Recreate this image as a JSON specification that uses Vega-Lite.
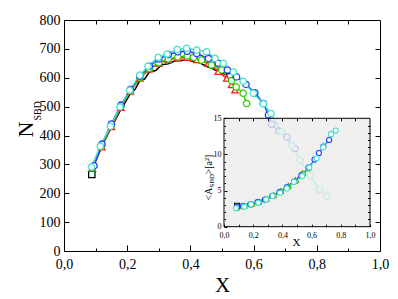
{
  "$schema": "https://vega.github.io/schema/vega-lite/v6.json",
  "width": 316,
  "height": 231,
  "autosize": {"type": "none"},
  "padding": {"left": 64, "top": 20, "right": 18, "bottom": 48},
  "background": "white",
  "config": {
    "view": {"stroke": null},
    "font": "Liberation Serif",
    "axis": {"grid": false, "domainColor": "black", "tickColor": "black", "labelColor": "black", "titleColor": "black", "labelFont": "Liberation Serif", "titleFont": "Liberation Serif", "titleFontWeight": "normal", "labelFlush": false, "labelOverlap": false, "labelBound": false, "domainWidth": 1, "tickWidth": 1}
  },
  "datasets": {
    "main": [
      {"s": "s1", "x": 0.088, "n": 265}, {"s": "s1", "x": 0.095, "n": 300}, {"s": "s1", "x": 0.12, "n": 365}, {"s": "s1", "x": 0.15, "n": 428},
      {"s": "s1", "x": 0.18, "n": 490}, {"s": "s1", "x": 0.21, "n": 545}, {"s": "s1", "x": 0.225, "n": 560}, {"s": "s1", "x": 0.24, "n": 590},
      {"s": "s1", "x": 0.255, "n": 595}, {"s": "s1", "x": 0.27, "n": 620}, {"s": "s1", "x": 0.29, "n": 625}, {"s": "s1", "x": 0.31, "n": 645},
      {"s": "s1", "x": 0.33, "n": 648}, {"s": "s1", "x": 0.35, "n": 658}, {"s": "s1", "x": 0.37, "n": 660}, {"s": "s1", "x": 0.39, "n": 662},
      {"s": "s1", "x": 0.41, "n": 656}, {"s": "s1", "x": 0.43, "n": 652}, {"s": "s1", "x": 0.45, "n": 640}, {"s": "s1", "x": 0.47, "n": 632},
      {"s": "s1", "x": 0.49, "n": 620}, {"s": "s1", "x": 0.51, "n": 612}, {"s": "s1", "x": 0.525, "n": 603},
      {"s": "s2", "x": 0.09, "n": 285}, {"s": "s2", "x": 0.12, "n": 360}, {"s": "s2", "x": 0.15, "n": 430}, {"s": "s2", "x": 0.18, "n": 497},
      {"s": "s2", "x": 0.21, "n": 553}, {"s": "s2", "x": 0.24, "n": 598}, {"s": "s2", "x": 0.27, "n": 630}, {"s": "s2", "x": 0.3, "n": 650},
      {"s": "s2", "x": 0.33, "n": 662}, {"s": "s2", "x": 0.36, "n": 668}, {"s": "s2", "x": 0.39, "n": 670}, {"s": "s2", "x": 0.42, "n": 662},
      {"s": "s2", "x": 0.457, "n": 650}, {"s": "s2", "x": 0.488, "n": 621}, {"s": "s2", "x": 0.515, "n": 598}, {"s": "s2", "x": 0.53, "n": 575},
      {"s": "s2", "x": 0.541, "n": 557},
      {"s": "s3", "x": 0.09, "n": 290}, {"s": "s3", "x": 0.12, "n": 365}, {"s": "s3", "x": 0.15, "n": 435}, {"s": "s3", "x": 0.18, "n": 500},
      {"s": "s3", "x": 0.21, "n": 555}, {"s": "s3", "x": 0.24, "n": 600}, {"s": "s3", "x": 0.27, "n": 632}, {"s": "s3", "x": 0.3, "n": 652},
      {"s": "s3", "x": 0.33, "n": 665}, {"s": "s3", "x": 0.36, "n": 672}, {"s": "s3", "x": 0.39, "n": 675}, {"s": "s3", "x": 0.41, "n": 670},
      {"s": "s3", "x": 0.435, "n": 661}, {"s": "s3", "x": 0.467, "n": 644}, {"s": "s3", "x": 0.499, "n": 627}, {"s": "s3", "x": 0.53, "n": 590},
      {"s": "s3", "x": 0.545, "n": 568}, {"s": "s3", "x": 0.567, "n": 546}, {"s": "s3", "x": 0.578, "n": 511},
      {"s": "s4", "x": 0.095, "n": 295}, {"s": "s4", "x": 0.12, "n": 370}, {"s": "s4", "x": 0.15, "n": 440}, {"s": "s4", "x": 0.18, "n": 505},
      {"s": "s4", "x": 0.21, "n": 560}, {"s": "s4", "x": 0.24, "n": 605}, {"s": "s4", "x": 0.27, "n": 640}, {"s": "s4", "x": 0.3, "n": 665},
      {"s": "s4", "x": 0.33, "n": 680}, {"s": "s4", "x": 0.36, "n": 690}, {"s": "s4", "x": 0.39, "n": 692}, {"s": "s4", "x": 0.42, "n": 684},
      {"s": "s4", "x": 0.457, "n": 667}, {"s": "s4", "x": 0.488, "n": 650}, {"s": "s4", "x": 0.517, "n": 627}, {"s": "s4", "x": 0.546, "n": 603},
      {"s": "s4", "x": 0.576, "n": 577}, {"s": "s4", "x": 0.604, "n": 548}, {"s": "s4", "x": 0.631, "n": 511}, {"s": "s4", "x": 0.647, "n": 471},
      {"s": "s4", "x": 0.657, "n": 439}, {"s": "s4", "x": 0.68, "n": 415}, {"s": "s4", "x": 0.705, "n": 395}, {"s": "s4", "x": 0.731, "n": 355},
      {"s": "s5", "x": 0.087, "n": 291}, {"s": "s5", "x": 0.115, "n": 363}, {"s": "s5", "x": 0.147, "n": 432}, {"s": "s5", "x": 0.177, "n": 499},
      {"s": "s5", "x": 0.208, "n": 557}, {"s": "s5", "x": 0.24, "n": 609}, {"s": "s5", "x": 0.266, "n": 640}, {"s": "s5", "x": 0.298, "n": 671},
      {"s": "s5", "x": 0.326, "n": 682}, {"s": "s5", "x": 0.358, "n": 698}, {"s": "s5", "x": 0.388, "n": 702}, {"s": "s5", "x": 0.42, "n": 696},
      {"s": "s5", "x": 0.451, "n": 690}, {"s": "s5", "x": 0.478, "n": 667}, {"s": "s5", "x": 0.504, "n": 650}, {"s": "s5", "x": 0.536, "n": 620},
      {"s": "s5", "x": 0.567, "n": 588}, {"s": "s5", "x": 0.599, "n": 546}, {"s": "s5", "x": 0.631, "n": 510}, {"s": "s5", "x": 0.655, "n": 476},
      {"s": "s5", "x": 0.689, "n": 413}, {"s": "s5", "x": 0.721, "n": 366}, {"s": "s5", "x": 0.747, "n": 314}, {"s": "s5", "x": 0.779, "n": 262},
      {"s": "s5", "x": 0.808, "n": 213}, {"s": "s5", "x": 0.832, "n": 190}
    ],
    "inset": [
      {"s": "s1", "x": 0.09, "a": 2.9}, {"s": "s1", "x": 0.14, "a": 2.95}, {"s": "s1", "x": 0.19, "a": 3.2}, {"s": "s1", "x": 0.24, "a": 3.5},
      {"s": "s1", "x": 0.29, "a": 3.9}, {"s": "s1", "x": 0.34, "a": 4.35}, {"s": "s1", "x": 0.39, "a": 4.95}, {"s": "s1", "x": 0.44, "a": 5.6},
      {"s": "s1", "x": 0.49, "a": 6.4}, {"s": "s1", "x": 0.53, "a": 7.1},
      {"s": "s2", "x": 0.09, "a": 2.75}, {"s": "s2", "x": 0.14, "a": 2.9}, {"s": "s2", "x": 0.19, "a": 3.15}, {"s": "s2", "x": 0.24, "a": 3.45},
      {"s": "s2", "x": 0.29, "a": 3.85}, {"s": "s2", "x": 0.34, "a": 4.35}, {"s": "s2", "x": 0.39, "a": 4.95}, {"s": "s2", "x": 0.44, "a": 5.65},
      {"s": "s2", "x": 0.49, "a": 6.45}, {"s": "s2", "x": 0.54, "a": 7.4},
      {"s": "s3", "x": 0.09, "a": 2.6}, {"s": "s3", "x": 0.14, "a": 2.85}, {"s": "s3", "x": 0.19, "a": 3.1}, {"s": "s3", "x": 0.24, "a": 3.4},
      {"s": "s3", "x": 0.29, "a": 3.8}, {"s": "s3", "x": 0.34, "a": 4.3}, {"s": "s3", "x": 0.39, "a": 4.85}, {"s": "s3", "x": 0.44, "a": 5.5},
      {"s": "s3", "x": 0.49, "a": 6.3}, {"s": "s3", "x": 0.54, "a": 7.3}, {"s": "s3", "x": 0.58, "a": 8.1},
      {"s": "s4", "x": 0.09, "a": 2.7}, {"s": "s4", "x": 0.13, "a": 2.85}, {"s": "s4", "x": 0.18, "a": 3.1}, {"s": "s4", "x": 0.23, "a": 3.4},
      {"s": "s4", "x": 0.28, "a": 3.75}, {"s": "s4", "x": 0.33, "a": 4.25}, {"s": "s4", "x": 0.38, "a": 4.8}, {"s": "s4", "x": 0.43, "a": 5.45},
      {"s": "s4", "x": 0.48, "a": 6.25}, {"s": "s4", "x": 0.53, "a": 7.1}, {"s": "s4", "x": 0.58, "a": 8.2}, {"s": "s4", "x": 0.62, "a": 9.3},
      {"s": "s4", "x": 0.65, "a": 10.2}, {"s": "s4", "x": 0.68, "a": 11.1}, {"s": "s4", "x": 0.72, "a": 12.0},
      {"s": "s5", "x": 0.082, "a": 2.55}, {"s": "s5", "x": 0.139, "a": 2.77}, {"s": "s5", "x": 0.185, "a": 3.1}, {"s": "s5", "x": 0.235, "a": 3.3},
      {"s": "s5", "x": 0.288, "a": 3.78}, {"s": "s5", "x": 0.333, "a": 4.24}, {"s": "s5", "x": 0.384, "a": 4.7}, {"s": "s5", "x": 0.43, "a": 5.3},
      {"s": "s5", "x": 0.479, "a": 6.2}, {"s": "s5", "x": 0.536, "a": 7.0}, {"s": "s5", "x": 0.584, "a": 8.2}, {"s": "s5", "x": 0.634, "a": 9.46},
      {"s": "s5", "x": 0.68, "a": 11.0}, {"s": "s5", "x": 0.733, "a": 12.8}, {"s": "s5", "x": 0.765, "a": 13.3}
    ],
    "one": [{"k": 1}]
  },
  "layer": [
    {
      "data": {"name": "main"},
      "encoding": {
        "x": {"field": "x", "type": "quantitative", "scale": {"domain": [0, 1], "nice": false, "zero": false},
          "axis": {"orient": "bottom", "values": [0, 0.2, 0.4, 0.6, 0.8, 1], "tickSize": -6, "labelPadding": 12, "labelFontSize": 14,
            "labelExpr": "replace(format(datum.value, '.1f'), '.', ',')",
            "title": "X", "titleFontSize": 21, "titleX": 158, "titleY": 40, "titleBaseline": "alphabetic", "titleAlign": "center"}},
        "y": {"field": "n", "type": "quantitative", "scale": {"domain": [0, 800], "nice": false, "zero": false},
          "axis": {"orient": "left", "values": [0, 100, 200, 300, 400, 500, 600, 700, 800], "tickSize": -5, "labelPadding": 9, "labelFontSize": 14,
            "title": "N", "titleFontSize": 22, "titleAngle": -90, "titleX": -32, "titleY": 117, "titleAlign": "left", "titleBaseline": "alphabetic"}},
        "color": {"field": "s", "type": "nominal", "scale": {"domain": ["s1", "s2", "s3", "s4", "s5"], "range": ["#000000", "#ff1a1a", "#33cc00", "#1f3fff", "#44e0cc"]}, "legend": null}
      },
      "layer": [
        {"mark": {"type": "line", "strokeWidth": 1.5}},
        {"transform": [{"filter": "datum.s != 's1' || datum.x < 0.09 || datum.x > 0.52"}],
          "mark": {"type": "point", "filled": false, "fill": "white", "fillOpacity": 1, "size": 40, "strokeWidth": 1.3},
          "encoding": {"shape": {"field": "s", "type": "nominal", "scale": {"domain": ["s1", "s2", "s3", "s4", "s5"], "range": ["square", "triangle-up", "circle", "circle", "circle"]}, "legend": null}}}
      ]
    },
    {
      "data": {"name": "one"},
      "mark": {"type": "point", "opacity": 0},
      "encoding": {
        "x": {"datum": 0.5, "type": "quantitative", "scale": {"domain": [0, 1], "nice": false, "zero": false},
          "axis": {"orient": "top", "values": [0.1, 0.2, 0.3, 0.4, 0.5, 0.6, 0.7, 0.8, 0.9], "tickSize": -4, "labels": false, "title": null}},
        "y": {"datum": 400, "type": "quantitative", "scale": {"domain": [0, 800], "nice": false, "zero": false},
          "axis": {"orient": "right", "values": [100, 200, 300, 400, 500, 600, 700], "tickSize": -5, "labels": false, "title": null}}
      }
    },
    {
      "data": {"name": "one"},
      "mark": {"type": "point", "opacity": 0},
      "encoding": {
        "x": {"datum": 0.5, "type": "quantitative", "scale": {"domain": [0, 1], "nice": false, "zero": false},
          "axis": {"orient": "bottom", "values": [0.1, 0.3, 0.5, 0.7, 0.9], "tickSize": -3, "labels": false, "domain": false, "title": null}},
        "y": {"datum": 400, "type": "quantitative", "scale": {"domain": [0, 800], "nice": false, "zero": false},
          "axis": {"orient": "left", "labels": false, "ticks": false, "domain": false,
            "title": "SBD", "titleFontSize": 10, "titleAngle": -90, "titleX": -24, "titleY": 100, "titleAlign": "left", "titleBaseline": "alphabetic"}}
      }
    },
    {
      "data": {"name": "one"},
      "mark": {"type": "rect", "fill": "#ebebeb", "fillOpacity": 0.8, "stroke": "black", "strokeWidth": 1},
      "encoding": {
        "x": {"datum": 0, "type": "quantitative", "scale": {"domain": [0, 1], "range": [160, 306], "nice": false, "zero": false}, "axis": null},
        "x2": {"datum": 1},
        "y": {"datum": 0, "type": "quantitative", "scale": {"domain": [0, 15], "range": [206.7, 98.3], "nice": false, "zero": false}, "axis": null},
        "y2": {"datum": 15}
      }
    },
    {
      "data": {"name": "inset"},
      "encoding": {
        "x": {"field": "x", "type": "quantitative", "scale": {"domain": [0, 1], "range": [160, 306], "nice": false, "zero": false}, "axis": null},
        "y": {"field": "a", "type": "quantitative", "scale": {"domain": [0, 15], "range": [206.7, 98.3], "nice": false, "zero": false}, "axis": null},
        "color": {"field": "s", "type": "nominal", "legend": null}
      },
      "layer": [
        {"mark": {"type": "line", "strokeWidth": 1.2}},
        {"transform": [{"filter": "datum.s != 's1' || datum.x < 0.1"}],
          "mark": {"type": "point", "filled": false, "fill": "white", "fillOpacity": 1, "size": 26, "strokeWidth": 1.1},
          "encoding": {"shape": {"field": "s", "type": "nominal", "legend": null}}}
      ]
    },
    {
      "data": {"name": "one"},
      "mark": {"type": "point", "opacity": 0},
      "encoding": {
        "x": {"datum": 0.5, "type": "quantitative", "scale": {"domain": [0, 1], "range": [160, 306], "nice": false, "zero": false},
          "axis": {"orient": "bottom", "offset": -24.3, "zindex": 2, "values": [0, 0.1, 0.2, 0.3, 0.4, 0.5, 0.6, 0.7, 0.8, 0.9, 1], "tickSize": -2.5, "labelPadding": 7, "labelFontSize": 8, "domain": false,
            "labelExpr": "(round(datum.value * 10) % 2 == 0) ? replace(format(datum.value, '.1f'), '.', ',') : ''",
            "title": "X", "titleFontSize": 11, "titleX": 232, "titleY": 19, "titleBaseline": "alphabetic", "titleAlign": "center"}},
        "y": {"datum": 5, "type": "quantitative", "scale": {"domain": [0, 15], "range": [206.7, 98.3], "nice": false, "zero": false},
          "axis": {"orient": "left", "offset": -160, "zindex": 2, "values": [0, 5, 10, 15], "tickSize": -3, "labelPadding": 6, "labelFontSize": 8, "domain": false,
            "title": "<A", "titleFontSize": 10, "titleAngle": -90, "titleX": -13, "titleY": 180, "titleAlign": "left", "titleBaseline": "alphabetic"}}
      }
    },
    {
      "data": {"name": "one"},
      "mark": {"type": "point", "opacity": 0},
      "encoding": {
        "x": {"datum": 0.5, "type": "quantitative", "scale": {"domain": [0, 1], "range": [160, 306], "nice": false, "zero": false},
          "axis": {"orient": "top", "offset": -98.3, "zindex": 2, "values": [0.1, 0.2, 0.3, 0.4, 0.5, 0.6, 0.7, 0.8, 0.9], "tickSize": -2.5, "labels": false, "domain": false, "title": null}},
        "y": {"datum": 5, "type": "quantitative", "scale": {"domain": [0, 15], "range": [206.7, 98.3], "nice": false, "zero": false},
          "axis": {"orient": "right", "offset": -10, "zindex": 2, "values": [1, 2, 3, 4, 5, 6, 7, 8, 9, 10, 11, 12, 13, 14], "tickSize": -2.5, "labels": false, "domain": false,
            "title": ">[a²]", "titleFontSize": 10, "titleAngle": -90, "titleX": -159, "titleY": 154, "titleAlign": "left", "titleBaseline": "alphabetic"}}
      }
    },
    {
      "data": {"name": "one"},
      "mark": {"type": "point", "opacity": 0},
      "encoding": {
        "x": {"datum": 0.5, "type": "quantitative", "scale": {"domain": [0, 1], "range": [160, 306], "nice": false, "zero": false}, "axis": null},
        "y": {"datum": 5, "type": "quantitative", "scale": {"domain": [0, 15], "range": [206.7, 98.3], "nice": false, "zero": false},
          "axis": {"orient": "left", "offset": -160, "zindex": 2, "values": [1, 2, 3, 4, 6, 7, 8, 9, 11, 12, 13, 14], "tickSize": -1.5, "labels": false, "domain": false,
            "title": "SBD", "titleFontSize": 7, "titleAngle": -90, "titleX": -10.5, "titleY": 167, "titleAlign": "left", "titleBaseline": "alphabetic"}}
      }
    }
  ],
  "resolve": {"scale": {"x": "independent", "y": "independent"}, "axis": {"x": "independent", "y": "independent"}}
}
